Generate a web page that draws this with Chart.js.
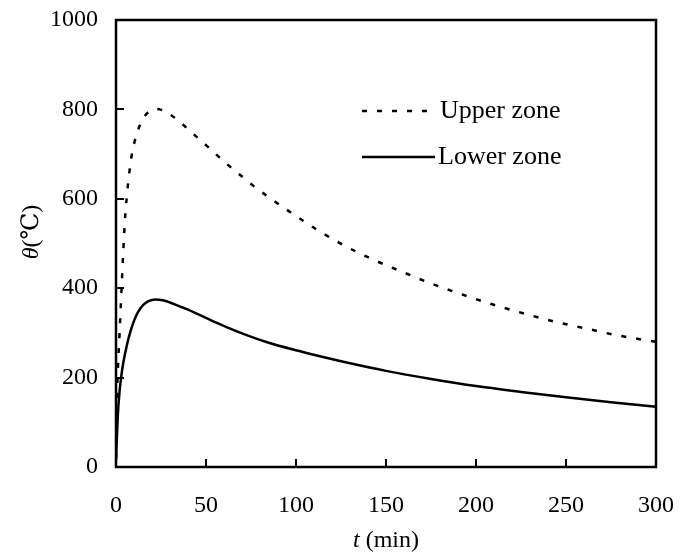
<!DOCTYPE html>
<html>
<head>
<meta charset="utf-8">
<script src="https://cdn.jsdelivr.net/npm/chart.js@4"></script>
<style>
  html, body { margin: 0; padding: 0; background: #fff; }
  #wrap { width: 683px; height: 560px; }
</style>
</head>
<body>
<div id="wrap"><canvas id="c" width="683" height="560"></canvas></div>
<script>
// Gas temperature in the two zones over time
const upperT = [0, 0.5, 1, 2, 3, 4, 5, 6, 7, 8, 9, 11, 13, 16, 19, 22, 26, 30, 36, 43, 50, 56, 63, 70, 76, 84, 98, 112, 127, 144, 160, 176, 193, 209, 227, 244, 261, 278, 300];
const upperV = [20, 150, 215, 300, 390, 480, 555, 605, 645, 677, 703, 738, 762, 785, 797, 801, 798, 789, 770, 745, 720, 698, 673, 650, 630, 606, 567, 530, 495, 462, 435, 409, 385, 364, 343, 325, 310, 295, 280];

const lowerT = [0, 1, 2, 3, 4, 6, 8, 10, 12, 15, 18, 22, 26, 30, 35, 40, 47, 55, 62, 70, 84, 100, 115, 130, 150, 175, 200, 225, 250, 275, 300];
const lowerV = [15, 115, 170, 205, 232, 272, 303, 327, 345, 362, 371, 375, 373, 368, 360, 352, 339, 324, 312, 299, 279, 261, 246, 232, 215, 197, 181, 168, 156, 145, 135];

const xTicks = [0, 50, 100, 150, 200, 250, 300];
const yTicks = [0, 200, 400, 600, 800, 1000];

const seriesLabels = ['Upper zone', 'Lower zone'];

const FONT = "'Liberation Serif', 'Times New Roman', serif";

function pts(ts, vs) { return ts.map((t, i) => ({ x: t, y: vs[i] })); }

// Frame, inward tick marks, axis titles and in-plot legend
const decorations = {
  id: 'decorations',
  afterDraw(chart) {
    const ctx = chart.ctx;
    const a = chart.chartArea;
    const xs = chart.scales.x, ys = chart.scales.y;
    ctx.save();
    ctx.strokeStyle = '#000';

    // inward ticks
    ctx.lineWidth = 2;
    ctx.beginPath();
    xTicks.forEach(v => {
      const px = Math.round(xs.getPixelForValue(v));
      ctx.moveTo(px, a.bottom);
      ctx.lineTo(px, a.bottom - 8);
    });
    yTicks.forEach(v => {
      const py = Math.round(ys.getPixelForValue(v));
      ctx.moveTo(a.left, py);
      ctx.lineTo(a.left + 8, py);
    });
    ctx.stroke();

    // frame
    ctx.lineWidth = 2.5;
    ctx.strokeRect(a.left, a.top, a.right - a.left, a.bottom - a.top);

    // x title: t (min)
    ctx.fillStyle = '#000';
    ctx.textBaseline = 'middle';
    ctx.textAlign = 'left';
    const fItal = "italic 24px " + FONT;
    const fReg = "24px " + FONT;
    ctx.font = fItal;
    const wT = ctx.measureText('t').width;
    ctx.font = fReg;
    const wMin = ctx.measureText(' (min)').width;
    const cx = (a.left + a.right) / 2;
    const x0 = cx - (wT + wMin) / 2;
    ctx.font = fItal; ctx.fillText('t', x0, 541);
    ctx.font = fReg; ctx.fillText(' (min)', x0 + wT, 541);

    // y title: θ(℃)
    ctx.save();
    ctx.translate(32, 232);
    ctx.rotate(-Math.PI / 2);
    const fUnit = "24px " + FONT + ", 'DejaVu Serif'";
    ctx.font = fItal;
    const wTh = ctx.measureText('θ').width;
    ctx.font = fUnit;
    const wC = ctx.measureText('(℃)').width;
    const y0 = -(wTh + wC) / 2;
    ctx.font = fItal; ctx.fillText('θ', y0, 0);
    ctx.font = fUnit; ctx.fillText('(℃)', y0 + wTh, 0);
    ctx.restore();

    // legend
    const legendRows = [
      { y: 111, x1: 362, x2: 428, tx: 440 },
      { y: 157, x1: 362, x2: 435, tx: 438 }
    ];
    chart.data.datasets.forEach((ds, i) => {
      const r = legendRows[i];
      ctx.save();
      ctx.lineWidth = ds.borderWidth;
      ctx.setLineDash(ds.borderDash || []);
      ctx.beginPath();
      ctx.moveTo(r.x1, r.y);
      ctx.lineTo(r.x2, r.y);
      ctx.stroke();
      ctx.restore();
      ctx.font = "26px " + FONT;
      ctx.textAlign = 'left';
      ctx.textBaseline = 'middle';
      ctx.fillText(ds.label, r.tx, r.y);
    });
    ctx.restore();
  }
};

new Chart(document.getElementById('c'), {
  type: 'line',
  data: {
    datasets: [
      {
        label: seriesLabels[0],
        data: pts(upperT, upperV),
        borderColor: '#000',
        borderWidth: 2.5,
        borderDash: [5, 10],
        pointRadius: 0,
        fill: false,
        cubicInterpolationMode: 'monotone'
      },
      {
        label: seriesLabels[1],
        data: pts(lowerT, lowerV),
        borderColor: '#000',
        borderWidth: 2.5,
        pointRadius: 0,
        fill: false,
        cubicInterpolationMode: 'monotone'
      }
    ]
  },
  options: {
    responsive: false,
    animation: false,
    events: [],
    layout: { padding: { left: 0, right: 27, top: 20, bottom: 0 } },
    plugins: { legend: { display: false }, tooltip: { enabled: false } },
    scales: {
      x: {
        type: 'linear',
        min: 0, max: 300,
        afterBuildTicks: s => { s.ticks = xTicks.map(v => ({ value: v })); },
        afterFit: s => { s.height = 93; s.paddingLeft = 0; s.paddingRight = 0; },
        grid: { display: false, drawTicks: false },
        border: { display: false },
        ticks: { color: '#000', padding: 24, maxRotation: 0, callback: v => String(v), font: { family: FONT, size: 24 } }
      },
      y: {
        type: 'linear',
        min: 0, max: 1000,
        afterBuildTicks: s => { s.ticks = yTicks.map(v => ({ value: v })); },
        afterFit: s => { s.width = 116; s.paddingTop = 0; s.paddingBottom = 0; },
        grid: { display: false, drawTicks: false },
        border: { display: false },
        ticks: { color: '#000', padding: 18, callback: v => String(v), font: { family: FONT, size: 24 } }
      }
    }
  },
  plugins: [decorations]
});
</script>
</body>
</html>
